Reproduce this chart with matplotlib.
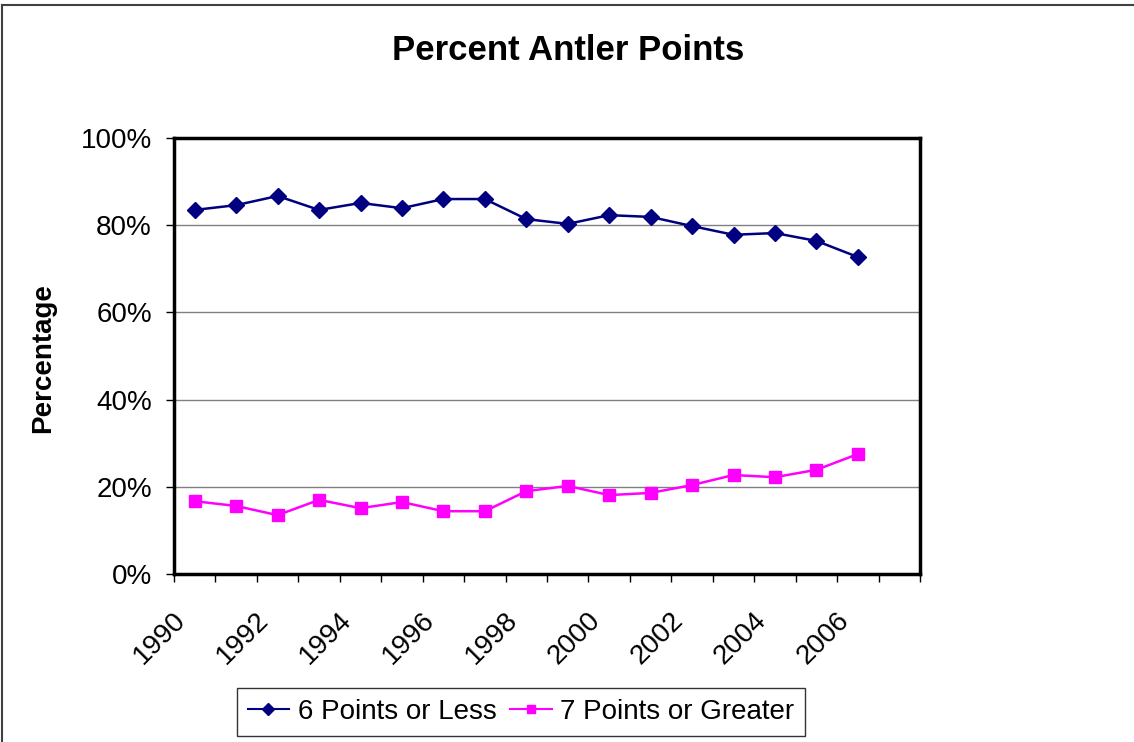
import matplotlib
matplotlib.use("Agg")
import matplotlib.pyplot as plt
from matplotlib.lines import Line2D
from matplotlib.transforms import ScaledTranslation

plt.rcParams['font.family'] = ['Liberation Sans', 'DejaVu Sans']

# data
years = list(range(1990, 2007))
six_or_less = [83.5, 84.6, 86.7, 83.5, 85.1, 83.9, 86.0, 86.0, 81.4, 80.3,
               82.3, 81.9, 79.8, 77.8, 78.2, 76.4, 72.7]
seven_or_more = [16.7, 15.6, 13.5, 17.0, 15.1, 16.5, 14.4, 14.4, 19.0, 20.2,
                 18.1, 18.6, 20.4, 22.7, 22.2, 23.9, 27.5]
year_labels = [str(y) for y in range(1990, 2007, 2)]
n_slots = 18  # Excel category axis leaves one empty slot after 2006

fig = plt.figure(figsize=(11.34, 7.42), dpi=100, facecolor='white')
ax = fig.add_axes([174/1134, 168/742, 746/1134, 436/742])

xpos = [i + 0.5 for i in range(len(years))]
ax.plot(xpos, six_or_less, color='#000080', lw=1.8, marker='D', ms=8,
        label='6 Points or Less')
ax.plot(xpos, seven_or_more, color='#FF00FF', lw=1.8, marker='s', ms=8,
        label='7 Points or Greater')

ax.set_xlim(0, n_slots)
ax.set_ylim(0, 100)
ax.set_yticks(range(0, 101, 20))
ax.set_yticklabels([f'{v}%' for v in range(0, 101, 20)], fontsize=20)
ax.yaxis.grid(True, color='#808080', lw=1)
ax.set_axisbelow(True)

ax.set_xticks(range(0, n_slots + 1))
ax.set_xticklabels([])
ax.set_xticks([i * 2 + 0.5 for i in range(len(year_labels))], minor=True)
ax.set_xticklabels(year_labels, minor=True, rotation=45, ha='right',
                   va='top', rotation_mode='anchor', fontsize=20)
ax.tick_params(axis='x', which='minor', length=0, pad=24)
ax.tick_params(axis='both', which='major', length=6, width=1, direction='out')
ax.tick_params(axis='y', pad=10)
shift = ScaledTranslation(-22/100, 0, fig.dpi_scale_trans)
for lab in ax.get_xticklabels(minor=True):
    lab.set_transform(lab.get_transform() + shift)

for s in ax.spines.values():
    s.set_linewidth(2.5)
    s.set_color('black')

ax.set_ylabel('Percentage', fontsize=20, fontweight='bold')
ax.yaxis.set_label_coords(-0.175, 0.495)
ax.yaxis.label.set_va('center')
fig.text(568/1134, 1 - 50/742, 'Percent Antler Points', ha='center',
         va='center', fontsize=25, fontweight='bold')

leg = fig.legend(loc='center', bbox_to_anchor=(521/1134, 1 - 712/742),
                 ncol=2, fontsize=20, frameon=True, fancybox=False,
                 edgecolor='black', handlelength=1.5, columnspacing=0.5,
                 handletextpad=0.3, borderpad=0.4, markerscale=0.8)
leg.get_frame().set_linewidth(1)
for h in leg.legend_handles:
    h.set_linewidth(1.5)

# outer chart border (only top and left visible in the reference)
fig.add_artist(Line2D([2/1134, 1], [1 - 5/742, 1 - 5/742],
                      transform=fig.transFigure, color='#404040', lw=1.5))
fig.add_artist(Line2D([2/1134, 2/1134], [0, 1 - 5/742],
                      transform=fig.transFigure, color='#404040', lw=1.5))

fig.savefig('out.png', dpi=100, facecolor='white')
